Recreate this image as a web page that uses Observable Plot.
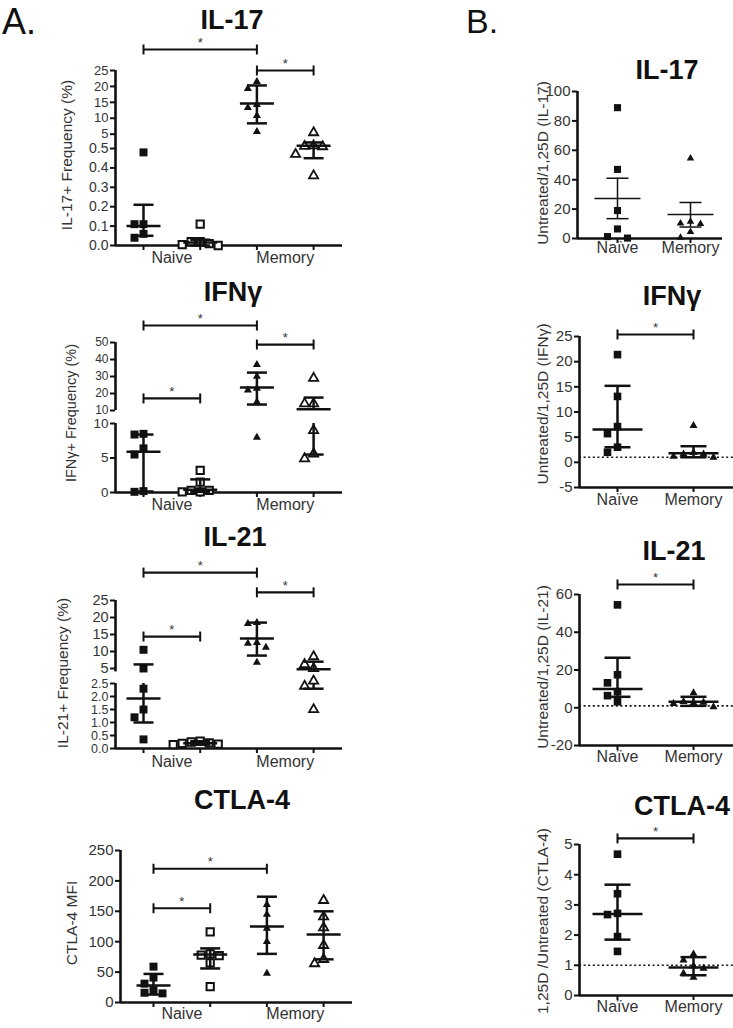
<!DOCTYPE html>
<html><head><meta charset="utf-8">
<script src="https://cdn.jsdelivr.net/npm/d3@7"></script>
<script src="https://cdn.jsdelivr.net/npm/@observablehq/plot@0.6"></script>
<style>
body{margin:0;background:#fff;}
#fig{position:relative;width:733px;height:1028px;overflow:hidden;font-family:"Liberation Sans",Arial,Helvetica,sans-serif;color:#222;background:#fff;}
.t{position:absolute;white-space:nowrap;line-height:1.2;}
.title{font-weight:bold;font-size:27px;color:#111;transform:translateX(-50%);line-height:0.8;}
.ylab{font-size:15px;color:#333;transform:translate(-50%,-50%) rotate(-90deg);}
.panel{font-size:36px;color:#111;}
</style></head><body><div id="fig"></div><script>
// ---------- data ----------
const categoriesA = ["Naive", "Memory"];
const categoriesB = ["Naïve", "Memory"];
const groupCategoryA = [0, 0, 1, 1];   // filled/open squares = naive, filled/open triangles = memory
const groupCategoryB = [0, 1];

// A. IL-17+ frequency (%)
const il17A_values = [[0.48, 0.11, 0.11, 0.06, 0.04], [0.11, 0.02, 0.02, 0.01, 0.005, 0.0], [21.5, 19.3, 14.3, 13.3, 10.8, 5.8], [5.5, 1.4, 1.2, 1.1, 0.47, 0.36]];
const il17A_center = [0.10, 0.015, 14.6, 1.4];
const il17A_lo = [0.05, 0.0, 8.4, 0.45];
const il17A_hi = [0.21, 0.03, 20.3, 2.4];
const il17A_sig = [[1, 3, 31.6], [3, 4, 25]];
const il17A_ticksUpper = [5, 10, 15, 20, 25];
const il17A_ticksLower = [0, 0.1, 0.2, 0.3, 0.4, 0.5];

// A. IFNγ+ frequency (%)
const ifngA_values = [[8.5, 8.4, 6.4, 5.5, 0.2, 0.1], [3.2, 1.5, 0.3, 0.3, 0.1, 0.1], [37, 30, 23, 22, 15, 8], [29, 14, 14, 9, 5.6, 4.9]];
const ifngA_center = [5.9, 0.4, 23.5, 10.8];
const ifngA_lo = [0.15, 0.1, 13.5, 5.5];
const ifngA_hi = [8.4, 1.9, 32.3, 17.6];
const ifngA_sig = [[1, 3, 60], [3, 4, 48.8], [1, 2, 17.1]];
const ifngA_ticksUpper = [10, 20, 30, 40, 50];
const ifngA_ticksLower = [0, 5, 10];

// A. IL-21+ frequency (%)
const il21A_values = [[10.5, 5.0, 2.3, 1.5, 1.2, 0.35], [0.28, 0.25, 0.22, 0.2, 0.17, 0.15], [18.5, 18.2, 12.6, 12.4, 11.2, 6.8], [8.5, 6.2, 5.0, 2.6, 2.4, 1.5]];
const il21A_center = [1.92, 0.2, 13.8, 4.8];
const il21A_lo = [1.0, 0.15, 8.8, 2.3];
const il21A_hi = [6.2, 0.28, 18.5, 7.0];
const il21A_sig = [[1, 3, 33.2], [3, 4, 27.4], [1, 2, 14.4]];
const il21A_ticksUpper = [5, 10, 15, 20, 25];
const il21A_ticksLower = [0, 0.5, 1.0, 1.5, 2.0, 2.5];

// A. CTLA-4 MFI
const ctla4A_values = [[59, 41, 31, 20, 16, 15], [116, 80, 78, 77, 65, 26], [161, 145, 122, 100, 48], [168, 141, 123, 94, 71, 64]];
const ctla4A_center = [28, 79, 125, 112];
const ctla4A_lo = [13, 56, 80, 71];
const ctla4A_hi = [47, 89, 174, 150];
const ctla4A_sig = [[1, 3, 220], [1, 2, 155]];
const ctla4A_ticks = [0, 50, 100, 150, 200, 250];

// B. ratios
const il17B_values = [[89, 47, 19, 6.5, 1.3, 0.3], [54.5, 11.5, 10.3, 10, 4.5, 0.6]];
const il17B_center = [27.2, 16.3];
const il17B_lo = [13.5, 7.8];
const il17B_hi = [41, 24.5];
const il17B_ticks = [0, 20, 40, 60, 80, 100];

const ifngB_values = [[21.4, 13.1, 7.1, 5.7, 3.0, 2.0], [7.3, 1.9, 1.6, 1.6, 1.2, 1.0]];
const ifngB_center = [6.5, 1.8];
const ifngB_lo = [3.0, 1.0];
const ifngB_hi = [15.2, 3.2];
const ifngB_sig = [[1, 2, 25.4]];
const ifngB_ticks = [-5, 0, 5, 10, 15, 20, 25];

const il21B_values = [[54.5, 17.5, 13.2, 8.5, 6.4, 3.2], [7.9, 3.2, 2.8, 2.6, 2.2, 0.5]];
const il21B_center = [10, 3.2];
const il21B_lo = [5.8, 1.0];
const il21B_hi = [26.5, 5.8];
const il21B_sig = [[1, 2, 65.3]];
const il21B_ticks = [-20, 0, 20, 40, 60];

const ctla4B_values = [[4.68, 3.37, 2.72, 2.68, 1.95, 1.46], [1.37, 1.17, 0.97, 0.9, 0.73, 0.6]];
const ctla4B_center = [2.7, 0.93];
const ctla4B_lo = [1.85, 0.67];
const ctla4B_hi = [3.67, 1.27];
const ctla4B_sig = [[1, 2, 5.2]];
const ctla4B_ticks = [0, 1, 2, 3, 4, 5];

const referenceLine = [1];

// ---------- drawing ----------
const fig = document.getElementById("fig");
const INK = "#111";
const hline = {draw(ctx, size) { const h = Math.sqrt(size / Math.PI); ctx.moveTo(-h, 0); ctx.lineTo(h, 0); }};
const vline = {draw(ctx, size) { const h = Math.sqrt(size / Math.PI); ctx.moveTo(0, -h); ctx.lineTo(0, h); }};
const fmtInt = d => String(d);
const fmt1 = d3.format(".1f");

const stylesA = [
  {symbol: "square", fill: INK, r: 4.5},
  {symbol: "square", fill: "white", stroke: INK, strokeWidth: 2, r: 4.1},
  {symbol: "triangle", fill: INK, r: 3.0},
  {symbol: "triangle", fill: "white", stroke: INK, strokeWidth: 1.8, r: 3.4}
];
const stylesB = [
  {symbol: "square", fill: INK, r: 4.3},
  {symbol: "triangle", fill: INK, r: 3.0}
];
const stylesBsmall = [
  {symbol: "square", fill: INK, r: 4.0},
  {symbol: "triangle", fill: INK, r: 2.8}
];

function addText(txt, cls, style) {
  const d = document.createElement("div");
  d.className = "t " + cls;
  d.textContent = txt;
  Object.assign(d.style, style);
  fig.appendChild(d);
}

function jitter(vals, yPx, size) {
  const placed = [], off = new Array(vals.length);
  const order = vals.map((v, i) => i).sort((a, b) => vals[b] - vals[a]);
  for (const i of order) {
    const y = yPx(vals[i]);
    for (const k of [0, -1, 1, -2, 2, -3, 3]) {
      const x = k * size;
      if (placed.every(p => Math.abs(p.x - x) >= size || Math.abs(p.y - y) >= size)) {
        off[i] = x; placed.push({x, y}); break;
      }
    }
  }
  return off;
}

function panel(p) {
  const segs = p.segs;
  const segIndex = v => { const i = segs.findIndex(s => v >= s.domain[0]); return i < 0 ? segs.length - 1 : i; };
  const pxOf = v => { const s = segs[segIndex(v)]; return s.yBot - (v - s.domain[0]) / (s.domain[1] - s.domain[0]) * (s.yBot - s.yTop); };
  const groups = p.values.map((_, i) => i + 1);
  const points = [];
  p.values.forEach((vals, gi) => {
    const off = jitter(vals, pxOf, p.jit);
    vals.forEach((v, j) => points.push({g: gi + 1, v, off: off[j], seg: segIndex(v)}));
  });
  const stats = p.center.map((c, i) => ({g: i + 1, c, lo: p.lo[i], hi: p.hi[i]}));
  const caps = stats.flatMap(d => [{g: d.g, v: d.lo}, {g: d.g, v: d.hi}]);
  const cats = p.cats.map((label, ci) => ({label, x: d3.mean(groups.filter(g => p.groupCat[g - 1] === ci))}));
  const sig = (p.sig || []).map(([a, b, y]) => ({a, b, y}));
  const sigEnds = sig.flatMap(d => [{x: d.a, y: d.y}, {x: d.b, y: d.y}]);

  segs.forEach((s, k) => {
    const base = k === segs.length - 1;
    const mL = 50, mR = 8, mT = k === 0 ? p.mTop : 4, mB = base ? 36 : 2;
    const w = p.x1 - p.x0, h = s.yBot - s.yTop;
    const xDom = [1 - (p.g1 - p.x0) / p.step, 1 + (p.x1 - p.g1) / p.step];
    const [dmin, dmax] = s.domain;
    const inSeg = v => v >= dmin && v <= dmax;
    const clamp = v => Math.max(dmin, Math.min(dmax, v));
    const marks = [];
    marks.push(Plot.ruleX([xDom[0]], {stroke: INK, strokeWidth: 2.6}));
    marks.push(Plot.axisY({ticks: s.ticks, tickFormat: s.fmt, tickSize: 5, tickPadding: 2, fontSize: s.fs ?? 15, strokeWidth: 2, label: null, fill: "#333", stroke: INK}));
    if (base) {
      marks.push(Plot.ruleY([dmin], {stroke: INK, strokeWidth: 2.6}));
      marks.push(Plot.axisX({ticks: groups, tickFormat: () => "", tickSize: 5, strokeWidth: 2, label: null, stroke: INK}));
      marks.push(Plot.text(cats, {x: "x", text: "label", frameAnchor: "bottom", dy: p.labDy, fontSize: 16, fill: "#333"}));
    }
    if (p.dotted && inSeg(referenceLine[0])) {
      marks.push(Plot.ruleY(referenceLine, {stroke: INK, strokeWidth: 1.6, strokeDasharray: "2,2.6"}));
    }
    p.styles.forEach((st, gi) => {
      marks.push(Plot.dot(points.filter(d => d.g === gi + 1 && d.seg === k), {x: d => d.g + d.off / p.step, y: "v", ...st}));
    });
    marks.push(Plot.ruleX(stats.filter(d => d.hi >= dmin && d.lo <= dmax), {x: "g", y1: d => clamp(d.lo), y2: d => clamp(d.hi), stroke: INK, strokeWidth: p.lw}));
    marks.push(Plot.dot(caps.filter(d => inSeg(d.v)), {x: "g", y: "v", symbol: hline, r: p.capHalf, fill: "none", stroke: INK, strokeWidth: p.lw}));
    marks.push(Plot.dot(stats.filter(d => inSeg(d.c)), {x: "g", y: "c", symbol: hline, r: p.cHalf, fill: "none", stroke: INK, strokeWidth: p.lw}));
    if (k === 0 && sig.length) {
      marks.push(Plot.ruleY(sig, {y: "y", x1: "a", x2: "b", stroke: INK, strokeWidth: 2.2}));
      marks.push(Plot.dot(sigEnds, {x: "x", y: "y", symbol: vline, r: 5, fill: "none", stroke: INK, strokeWidth: 2}));
      marks.push(Plot.text(sig, {x: d => (d.a + d.b) / 2, y: "y", text: () => "*", dy: -6.5, fontSize: 13, fill: "#333"}));
    }
    const svg = Plot.plot({
      width: mL + w + mR, height: mT + h + mB,
      marginLeft: mL, marginRight: mR, marginTop: mT, marginBottom: mB,
      x: {domain: xDom, axis: null, label: null},
      y: {domain: s.domain, axis: null, label: null},
      style: {fontFamily: "'Liberation Sans', Arial, sans-serif", background: "transparent", overflow: "visible", color: "#222"},
      marks
    });
    svg.style.position = "absolute";
    svg.style.left = (p.x0 - mL) + "px";
    svg.style.top = (s.yTop - mT) + "px";
    fig.appendChild(svg);
  });
}

// panel letters
addText("A.", "panel", {left: "2px", top: "0px"});
addText("B.", "panel", {left: "466px", top: "1px", fontSize: "34px"});

// ---- A ----
panel({x0: 115, x1: 342, g1: 143, step: 56.7, mTop: 60, jit: 9,
  segs: [
    {yTop: 70, yBot: 148, domain: [0.5, 25], ticks: il17A_ticksUpper, fmt: fmtInt, fs: 13},
    {yTop: 148, yBot: 245, domain: [0, 0.5], ticks: il17A_ticksLower, fmt: fmt1, fs: 14}
  ],
  values: il17A_values, center: il17A_center, lo: il17A_lo, hi: il17A_hi, sig: il17A_sig,
  cats: categoriesA, groupCat: groupCategoryA, labDy: 17, styles: stylesA, lw: 2.5, cHalf: 17, capHalf: 10});

panel({x0: 115, x1: 342, g1: 143, step: 56.7, mTop: 60, jit: 9,
  segs: [
    {yTop: 342, yBot: 410, domain: [10, 50], ticks: ifngA_ticksUpper, fmt: fmtInt, fs: 12},
    {yTop: 423, yBot: 492, domain: [0, 10], ticks: ifngA_ticksLower, fmt: fmtInt, fs: 13.5}
  ],
  values: ifngA_values, center: ifngA_center, lo: ifngA_lo, hi: ifngA_hi, sig: ifngA_sig,
  cats: categoriesA, groupCat: groupCategoryA, labDy: 17, styles: stylesA, lw: 2.5, cHalf: 17, capHalf: 10});

panel({x0: 115, x1: 342, g1: 143, step: 56.7, mTop: 60, jit: 9,
  segs: [
    {yTop: 600, yBot: 671.4, domain: [4, 25], ticks: il21A_ticksUpper, fmt: fmtInt, fs: 14.5},
    {yTop: 683, yBot: 748, domain: [0, 2.5], ticks: il21A_ticksLower, fmt: fmt1, fs: 12.5}
  ],
  values: il21A_values, center: il21A_center, lo: il21A_lo, hi: il21A_hi, sig: il21A_sig,
  cats: categoriesA, groupCat: groupCategoryA, labDy: 18, styles: stylesA, lw: 2.5, cHalf: 17, capHalf: 10});

panel({x0: 120, x1: 352, g1: 153, step: 56.7, mTop: 20, jit: 9,
  segs: [
    {yTop: 850, yBot: 1002, domain: [0, 250], ticks: ctla4A_ticks, fmt: fmtInt}
  ],
  values: ctla4A_values, center: ctla4A_center, lo: ctla4A_lo, hi: ctla4A_hi, sig: ctla4A_sig,
  cats: categoriesA, groupCat: groupCategoryA, labDy: 16, styles: stylesA, lw: 2.5, cHalf: 17, capHalf: 10});

// ---- B ----
panel({x0: 577, x1: 722, g1: 617, step: 73, mTop: 20, jit: 10,
  segs: [{yTop: 91, yBot: 238, domain: [0, 100], ticks: il17B_ticks, fmt: fmtInt}],
  values: il17B_values, center: il17B_center, lo: il17B_lo, hi: il17B_hi, sig: null,
  cats: categoriesB, groupCat: groupCategoryB, labDy: 14, styles: stylesBsmall, lw: 1.5, cHalf: 23, capHalf: 11});

panel({x0: 579, x1: 733, g1: 617, step: 76, mTop: 30, jit: 10, dotted: true,
  segs: [{yTop: 336, yBot: 487, domain: [-5, 25], ticks: ifngB_ticks, fmt: fmtInt}],
  values: ifngB_values, center: ifngB_center, lo: ifngB_lo, hi: ifngB_hi, sig: ifngB_sig,
  cats: categoriesB, groupCat: groupCategoryB, labDy: 17, styles: stylesB, lw: 2.5, cHalf: 25, capHalf: 13});

panel({x0: 579, x1: 733, g1: 617, step: 76, mTop: 30, jit: 10, dotted: true,
  segs: [{yTop: 594, yBot: 745, domain: [-20, 60], ticks: il21B_ticks, fmt: fmtInt}],
  values: il21B_values, center: il21B_center, lo: il21B_lo, hi: il21B_hi, sig: il21B_sig,
  cats: categoriesB, groupCat: groupCategoryB, labDy: 16, styles: stylesB, lw: 2.5, cHalf: 25, capHalf: 13});

panel({x0: 579, x1: 733, g1: 617, step: 76, mTop: 30, jit: 10, dotted: true,
  segs: [{yTop: 844, yBot: 995, domain: [0, 5], ticks: ctla4B_ticks, fmt: fmtInt}],
  values: ctla4B_values, center: ctla4B_center, lo: ctla4B_lo, hi: ctla4B_hi, sig: ctla4B_sig,
  cats: categoriesB, groupCat: groupCategoryB, labDy: 16, styles: stylesB, lw: 2.5, cHalf: 25, capHalf: 13});

// titles (line-height 0.8: cap top ≈ top + 0.03em)
const T = 0.8;
[["IL-17", 232, 10.5], ["IFNγ", 233, 283], ["IL-21", 235, 528], ["CTLA-4", 242, 791],
 ["IL-17", 667, 61], ["IFNγ", 672, 287], ["IL-21", 674, 542], ["CTLA-4", 682, 797]]
  .forEach(([t, x, y]) => addText(t, "title", {left: x + "px", top: (y - T) + "px"}));

// y-axis labels
[["IL-17+ Frequency (%)", 67, 155, 15.5], ["IFNγ+ Frequency (%)", 72, 413, 14.5],
 ["IL-21+ Frequency (%)", 63, 673, 15.5], ["CTLA-4 MFI", 72, 923, 15.5],
 ["Untreated/1,25D (IL-17)", 543, 163, 15.5], ["Untreated/1,25D (IFNγ)", 543, 404, 15.5],
 ["Untreated/1,25D (IL-21)", 543, 667, 15.5], ["1,25D /Untreated (CTLA-4)", 543, 921, 15.5]]
  .forEach(([t, x, y, fs]) => addText(t, "ylab", {left: x + "px", top: y + "px", fontSize: fs + "px"}));
</script></body></html>
